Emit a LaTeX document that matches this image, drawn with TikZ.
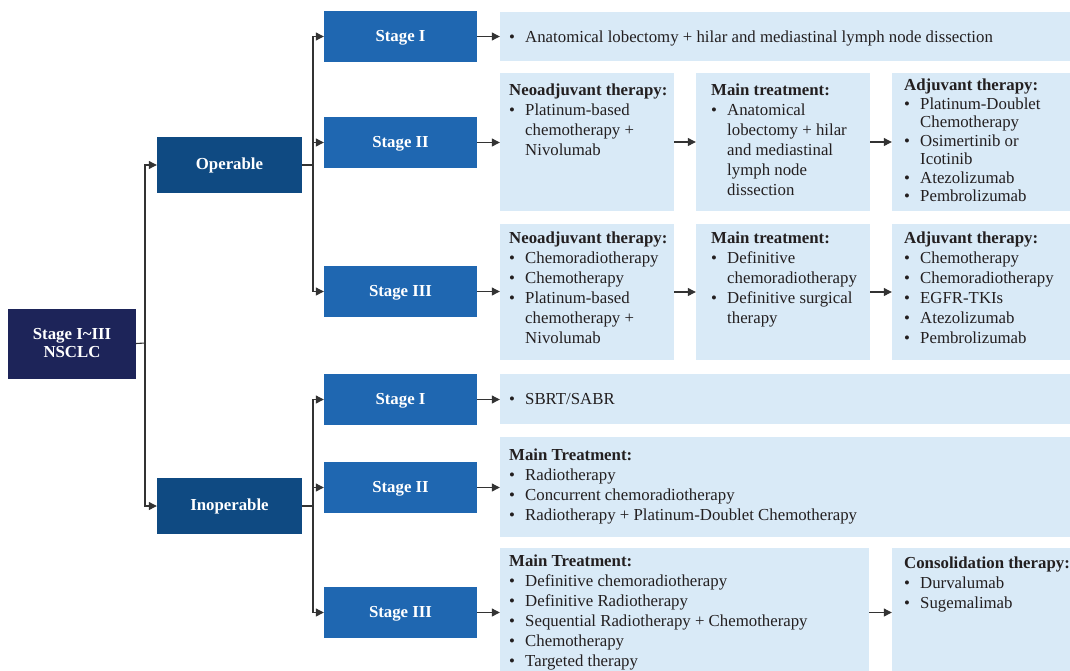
\documentclass[tikz,border=0pt]{standalone}
\usepackage{fontspec}
\setmainfont{Liberation Serif}
\usetikzlibrary{arrows.meta}

\definecolor{rootblue}{HTML}{1D2459}
\definecolor{branchblue}{HTML}{0F4A82}
\definecolor{stageblue}{HTML}{1F67B1}
\definecolor{panelblue}{HTML}{D9EAF7}
\definecolor{ink}{HTML}{231F20}
\definecolor{wire}{HTML}{333333}

% bullet item, continuation line, and a fixed-height first line
\newcommand{\itm}[1]{\makebox[16pt][l]{\textbullet}#1}
\newcommand{\cnt}[1]{\hspace*{16pt}#1}
\newcommand{\topline}{\rule{0pt}{14pt}}

\tikzset{
  rootbox/.style={fill=rootblue, text=white, inner sep=0, align=center,
    font=\bfseries\fontsize{16.8}{18}\selectfont,
    minimum width=128pt, minimum height=70pt},
  branchbox/.style={fill=branchblue, text=white, inner sep=0,
    font=\bfseries\fontsize{16.8}{20}\selectfont,
    text height=11pt, text depth=1.5pt,
    minimum width=145pt, minimum height=56pt},
  stagebox/.style={fill=stageblue, text=white, inner sep=0,
    font=\bfseries\fontsize{16.8}{20}\selectfont,
    text height=11pt, text depth=1.5pt,
    minimum width=153pt, minimum height=51pt},
  panel/.style={fill=panelblue, inner sep=0},
  txt/.style={anchor=north west, inner sep=0, align=left, text=ink,
    font=\fontsize{16.8}{20}\selectfont},
  txttight/.style={txt, font=\fontsize{16.8}{18.5}\selectfont},
  conn/.style={draw=wire, line width=1.1pt},
  arr/.style={conn, -{Triangle[length=8pt,width=8pt]}},
}

\begin{document}
\begin{tikzpicture}[x=1pt,y=-1pt]
\useasboundingbox (0,0) rectangle (1070,670);

% ---- hierarchy boxes
\node[rootbox] (root) at (72,343.5) {Stage I\textasciitilde III\\NSCLC};
\node[branchbox] (op) at (229.5,165) {Operable};
\node[branchbox] (inop) at (229.5,506) {Inoperable};

\node[stagebox] (os1) at (400.5,36.5) {Stage I};
\node[stagebox] (os2) at (400.5,142.5) {Stage II};
\node[stagebox] (os3) at (400.5,291.5) {Stage III};
\node[stagebox] (is1) at (400.5,399.5) {Stage I};
\node[stagebox] (is2) at (400.5,487.5) {Stage II};
\node[stagebox] (is3) at (400.5,612.5) {Stage III};

% ---- treatment panels
\node[panel, minimum width=572pt, minimum height=49pt] (o1) at (786,36.5) {};
\node[panel, minimum width=174pt, minimum height=138pt] (o2a) at (587,142) {};
\node[panel, minimum width=174pt, minimum height=138pt] (o2b) at (783,142) {};
\node[panel, minimum width=180pt, minimum height=138pt] (o2c) at (982,142) {};
\node[panel, minimum width=174pt, minimum height=136pt] (o3a) at (587,292) {};
\node[panel, minimum width=174pt, minimum height=136pt] (o3b) at (783,292) {};
\node[panel, minimum width=180pt, minimum height=136pt] (o3c) at (982,292) {};
\node[panel, minimum width=572pt, minimum height=50pt] (i1) at (786,399) {};
\node[panel, minimum width=572pt, minimum height=100pt] (i2) at (786,487) {};
\node[panel, minimum width=369pt, minimum height=128pt] (i3a) at (684.5,612) {};
\node[panel, minimum width=180pt, minimum height=128pt] (i3b) at (982,612) {};

% ---- panel texts (node top = first baseline - 14)
\node[txt] (t1) at (509,28) {\topline\itm{Anatomical lobectomy + hilar and mediastinal lymph node dissection}};

\node[txt] (t2a) at (509,81.2) {\topline\textbf{Neoadjuvant therapy:}\\
  \itm{Platinum-based}\\ \cnt{chemotherapy +}\\ \cnt{Nivolumab}};
\node[txt] (t2b) at (711,81) {\topline\textbf{Main treatment:}\\
  \itm{Anatomical}\\ \cnt{lobectomy + hilar}\\ \cnt{and mediastinal}\\
  \cnt{lymph node}\\ \cnt{dissection}};
\node[txttight] (t2c) at (904,76.5) {\topline\textbf{Adjuvant therapy:}\\
  \itm{Platinum-Doublet}\\ \cnt{Chemotherapy}\\ \itm{Osimertinib or}\\
  \cnt{Icotinib}\\ \itm{Atezolizumab}\\ \itm{Pembrolizumab}};

\node[txt] (t3a) at (509,229.5) {\topline\textbf{Neoadjuvant therapy:}\\
  \itm{Chemoradiotherapy}\\ \itm{Chemotherapy}\\ \itm{Platinum-based}\\
  \cnt{chemotherapy +}\\ \cnt{Nivolumab}};
\node[txt] (t3b) at (711,229.5) {\topline\textbf{Main treatment:}\\
  \itm{Definitive}\\ \cnt{chemoradiotherapy}\\ \itm{Definitive surgical}\\
  \cnt{therapy}};
\node[txt] (t3c) at (904,229.5) {\topline\textbf{Adjuvant therapy:}\\
  \itm{Chemotherapy}\\ \itm{Chemoradiotherapy}\\ \itm{EGFR-TKIs}\\
  \itm{Atezolizumab}\\ \itm{Pembrolizumab}};

\node[txt] (t4) at (509,390) {\topline\itm{SBRT/SABR}};

\node[txt] (t5) at (509,446) {\topline\textbf{Main Treatment:}\\
  \itm{Radiotherapy}\\ \itm{Concurrent chemoradiotherapy}\\
  \itm{Radiotherapy + Platinum-Doublet Chemotherapy}};

\node[txt] (t6a) at (509,552) {\topline\textbf{Main Treatment:}\\
  \itm{Definitive chemoradiotherapy}\\ \itm{Definitive Radiotherapy}\\
  \itm{Sequential Radiotherapy + Chemotherapy}\\ \itm{Chemotherapy}\\
  \itm{Targeted therapy}};
\node[txt] (t6b) at (904,554) {\topline\textbf{Consolidation therapy:}\\
  \itm{Durvalumab}\\ \itm{Sugemalimab}};

% ---- tree connectors
\coordinate (rj) at (145,343);
\coordinate (oj) at (313,165);
\coordinate (ij) at (313,506);

\draw[conn] (root.east) -- (rj);
\draw[arr] (rj) |- (op.west);
\draw[arr] (rj) |- (inop.west);

\draw[conn] (op.east) -- (oj);
\draw[arr] (oj) |- (os1.west);
\draw[arr] (oj) |- (os2.west);
\draw[arr] (oj) |- (os3.west);

\draw[conn] (inop.east) -- (ij);
\draw[arr] (ij) |- (is1.west);
\draw[arr] (ij) |- (is2.west);
\draw[arr] (ij) |- (is3.west);

% ---- stage to treatment arrows
\draw[arr] (os1.east) -- (os1.east -| o1.west);
\draw[arr] (os2.east) -- (os2.east -| o2a.west);
\draw[arr] (os3.east) -- (os3.east -| o3a.west);
\draw[arr] (is1.east) -- (is1.east -| i1.west);
\draw[arr] (is2.east) -- (is2.east -| i2.west);
\draw[arr] (is3.east) -- (is3.east -| i3a.west);

% ---- sequence arrows between panels
\draw[arr] (o2a.east) -- (o2b.west);
\draw[arr] (o2b.east) -- (o2c.west);
\draw[arr] (o3a.east) -- (o3b.west);
\draw[arr] (o3b.east) -- (o3c.west);
\draw[arr] (i3a.east |- is3.east) -- (i3b.west |- is3.east);
\end{tikzpicture}
\end{document}
